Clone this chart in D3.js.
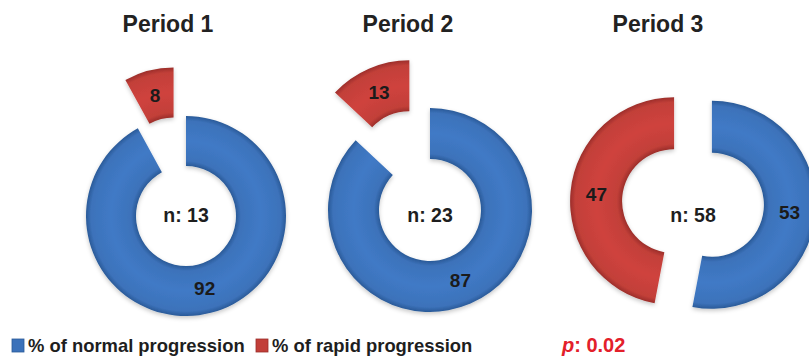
<!DOCTYPE html>
<html>
<head>
<meta charset="utf-8">
<script src="https://cdn.jsdelivr.net/npm/d3@7"></script>
<style>
  html, body { margin: 0; padding: 0; background: #ffffff; }
  svg { display: block; font-family: "Liberation Sans", Arial, sans-serif; }
</style>
</head>
<body>
<svg id="chart" width="809" height="356"></svg>
<script>
// Share of patients per period, in percent
const periods = ["Period 1", "Period 2", "Period 3"];
const normalProgression = [92, 87, 53];
const rapidProgression = [8, 13, 47];
const sampleSizes = [13, 23, 58];
const seriesNames = ["% of normal progression", "% of rapid progression"];
const pValueLabel = "0.02";

// Placement of each ring and how far each slice is pulled out
const layout = [
  { cx: 186, cy: 216, R: 100, explode: [0, 50] },
  { cx: 430, cy: 210, R: 102, explode: [0, 52] },
  { cx: 693, cy: 203, R: 104, explode: [19, 19] }
];
const innerRatio = 0.5;
const titleX = [168, 408, 658];

const colors = d3.scaleOrdinal()
  .domain(seriesNames)
  .range(["#3c72ba", "#c23f39"]);
const edgeColors = d3.scaleOrdinal()
  .domain(seriesNames)
  .range(["#2a5a98", "#9c2e2a"]);

const svg = d3.select("#chart");
const defs = svg.append("defs");

// soft shadow under the slices
const shadow = defs.append("filter").attr("id", "soft")
  .attr("x", "-20%").attr("y", "-20%").attr("width", "140%").attr("height", "140%");
shadow.append("feDropShadow")
  .attr("dx", 0).attr("dy", 2).attr("stdDeviation", 2.2)
  .attr("flood-color", "#000").attr("flood-opacity", 0.22);

const pie = d3.pie().sort(null).value(d => d.value);

periods.forEach((period, i) => {
  const L = layout[i];
  const r0 = L.R * innerRatio;
  const arc = d3.arc().innerRadius(r0).outerRadius(L.R);

  // bevel-like shading across the ring width
  seriesNames.forEach((name, k) => {
    const g = defs.append("radialGradient")
      .attr("id", `ring${i}_${k}`)
      .attr("gradientUnits", "userSpaceOnUse")
      .attr("cx", 0).attr("cy", 0).attr("r", L.R);
    const f = r0 / L.R;
    const base = colors(name), edge = edgeColors(name);
    const light = d3.color(base).brighter(0.18).formatHex();
    [[0, edge], [f, edge], [f + 0.05, base], [(f + 1) / 2, light], [0.95, base], [1, edge]]
      .forEach(([o, c]) => g.append("stop").attr("offset", o).attr("stop-color", c));
  });

  const data = pie([
    { name: seriesNames[0], value: normalProgression[i] },
    { name: seriesNames[1], value: rapidProgression[i] }
  ]);

  const donut = svg.append("g")
    .attr("transform", `translate(${L.cx},${L.cy})`);

  const slices = donut.selectAll("g.slice")
    .data(data)
    .join("g")
    .attr("class", "slice")
    .attr("transform", (d, k) => {
      const mid = (d.startAngle + d.endAngle) / 2;
      const e = L.explode[k];
      return `translate(${Math.sin(mid) * e},${-Math.cos(mid) * e})`;
    });

  slices.append("path")
    .attr("d", arc)
    .attr("fill", (d, k) => `url(#ring${i}_${k})`)
    .attr("filter", "url(#soft)");

  slices.append("text")
    .attr("transform", d => `translate(${arc.centroid(d)})`)
    .attr("text-anchor", "middle")
    .attr("dy", "0.36em")
    .attr("font-size", 19)
    .attr("font-weight", "bold")
    .attr("fill", "#1b1b1b")
    .text(d => d.data.value);

  // sample size in the hole
  svg.append("text")
    .attr("x", L.cx)
    .attr("y", 215)
    .attr("dy", "0.36em")
    .attr("text-anchor", "middle")
    .attr("font-size", 19.5)
    .attr("font-weight", "bold")
    .attr("fill", "#1e1e1e")
    .text(`n: ${sampleSizes[i]}`);

  // period title
  svg.append("text")
    .attr("x", titleX[i])
    .attr("y", 32)
    .attr("text-anchor", "middle")
    .attr("font-size", 23)
    .attr("font-weight", "bold")
    .attr("fill", "#222")
    .text(period);
});

// legend
const legendX = [12, 256];
const legend = svg.append("g");
seriesNames.forEach((name, k) => {
  legend.append("rect")
    .attr("x", legendX[k]).attr("y", 339)
    .attr("width", 12).attr("height", 13)
    .attr("fill", colors(name))
    .attr("stroke", edgeColors(name)).attr("stroke-width", 0.8);
  legend.append("text")
    .attr("x", legendX[k] + 16).attr("y", 352)
    .attr("font-size", 18.4)
    .attr("font-weight", "bold")
    .attr("fill", "#1e1e1e")
    .text(name);
});

// significance
const pText = svg.append("text")
  .attr("x", 562).attr("y", 352)
  .attr("font-size", 20)
  .attr("font-weight", "bold")
  .attr("fill", "#e3202a");
pText.append("tspan").attr("font-style", "italic").text("p");
pText.append("tspan").text(`: ${pValueLabel}`);
</script>
</body>
</html>
